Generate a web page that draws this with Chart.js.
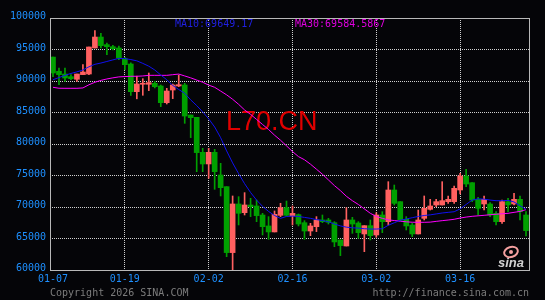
<!DOCTYPE html>
<html>
<head>
<meta charset="utf-8">
<script src="https://cdn.jsdelivr.net/npm/chart.js@4/dist/chart.umd.min.js"></script>
<style>
  html, body { margin: 0; padding: 0; background: #050508; }
  #wrap { width: 545px; height: 300px; }
</style>
</head>
<body>
<div id="wrap"><canvas id="kline" width="545" height="300"></canvas></div>
<script>
// daily bars, 01-07 .. 03-27
var days = [
  '01-07','01-08','01-09','01-10','01-11','01-12','01-13','01-14','01-15','01-16',
  '01-17','01-18','01-19','01-20','01-21','01-22','01-23','01-24','01-25','01-26',
  '01-27','01-28','01-29','01-30','01-31','02-01','02-02','02-03','02-04','02-05',
  '02-06','02-07','02-08','02-09','02-10','02-11','02-12','02-13','02-14','02-15',
  '02-16','02-17','02-18','02-19','02-20','02-21','02-22','02-23','02-24','02-25',
  '02-26','02-27','02-28','03-01','03-02','03-03','03-04','03-05','03-06','03-07',
  '03-08','03-09','03-10','03-11','03-12','03-13','03-14','03-15','03-16','03-17',
  '03-18','03-19','03-20','03-21','03-22','03-23','03-24','03-25','03-26','03-27'
];

var openPx = [
  93800, 91540, 91110, 90690, 90270, 91010, 91110, 95240, 96980, 95770,
  95450, 95240, 93550, 92700, 88310, 89480, 89480, 89630, 89210, 86560,
  88570, 89210, 89370, 84600, 84230, 78680, 76830, 78680, 75080, 73230,
  62760, 70480, 69100, 70320, 70160, 68730, 66990, 66040, 68680, 69900,
  68570, 68780, 67510, 66190, 66880, 67940, 67940, 67510, 64770, 63810,
  67940, 67460, 65720, 67040, 65560, 68730, 67670, 72700, 70850, 68040,
  67140, 65720, 68200, 69630, 70320, 70320, 70850, 70850, 72700, 74920,
  73860, 71220, 70480, 70480, 69000, 67670, 70850, 70480, 71220, 68730
];
var highPx = [
  93800, 92060, 92060, 91010, 91110, 92590, 95400, 97990, 97570, 96030,
  95660, 95560, 93760, 92900, 90770, 90370, 91270, 89950, 89370, 88840,
  89520, 90950, 89630, 84600, 84230, 79310, 79310, 79150, 76930, 73230,
  71750, 71640, 72280, 71380, 71110, 69000, 68470, 69370, 70590, 70950,
  70160, 68890, 67830, 67410, 68470, 68730, 68200, 67670, 64770, 69890,
  68360, 67670, 67040, 67940, 69100, 69260, 74020, 73490, 70850, 68470,
  67410, 69520, 71750, 71220, 71220, 74020, 71750, 73330, 75340, 75980,
  73860, 71540, 71750, 70690, 69260, 71110, 71380, 72170, 71750, 69260
];
var lowPx = [
  90700, 89420, 89950, 90210, 89950, 91010, 91000, 95240, 95240, 94180,
  94920, 93390, 91800, 87700, 87170, 87730, 88470, 88900, 85930, 86350,
  87200, 89100, 83280, 81010, 75610, 75610, 74550, 72810, 71750, 62120,
  59800, 67150, 68730, 68470, 67670, 65560, 64870, 66040, 68470, 68570,
  67140, 66990, 64870, 65450, 66090, 67510, 67300, 63700, 62280, 63810,
  65820, 65030, 62910, 64770, 65190, 65930, 67140, 70320, 67830, 66350,
  65300, 65720, 67940, 69520, 70050, 70320, 70580, 70580, 72070, 73230,
  70850, 68730, 69520, 68470, 67140, 67410, 69260, 70320, 67940, 65400
];
var closePx = [
  91270, 91010, 90480, 90370, 91110, 91430, 95400, 96980, 95610, 95450,
  95130, 93650, 92590, 88310, 89530, 89640, 89740, 89100, 86560, 88410,
  89370, 89420, 84440, 84180, 78630, 76830, 78680, 75610, 73070, 62760,
  70480, 69000, 70320, 70050, 68630, 66880, 66040, 68840, 69900, 68680,
  68990, 67300, 66190, 66990, 67940, 67670, 67570, 64450, 63870, 67940,
  67300, 65930, 67040, 65450, 68730, 67670, 72700, 70580, 67940, 66990,
  65720, 67940, 69790, 70160, 70850, 71010, 71220, 72960, 74920, 73650,
  71110, 69790, 71220, 68730, 67670, 70850, 70320, 71220, 69260, 66250
];

var ma10 = [
  90200, 90550, 90900, 91200, 91450, 91750, 92250, 92650, 92850, 93100,
  93350, 93600, 93550, 93400, 93200, 92800, 92350, 91750, 90950, 90200,
  89300, 88650, 88050, 87000, 86100, 85100, 84000, 82700, 81000, 78900,
  77000, 75300, 73700, 72300, 71100, 70100, 69300, 68650, 68200, 68500,
  68550, 68500, 68350, 68200, 68000, 67850, 67650, 67300, 67000, 66800,
  66700, 66650, 66550, 66500, 66500, 66550, 67100, 67500, 67900, 68100,
  68300, 68500, 68650, 68750, 68900, 69050, 69150, 69250, 69700, 70400,
  71100, 71300, 71250, 71100, 71000, 71000, 71050, 70800, 70200, 69649.17
];
var ma30 = [
  89000, 88850, 88840, 88840, 88840, 88900, 89400, 89800, 90100, 90320,
  90500, 90650, 90700, 90750, 90750, 90800, 90900, 90900, 90900, 90900,
  91000, 91100, 90800, 90500, 90150, 89800, 89350, 89000, 88400, 87800,
  87100, 86300, 85400, 84700, 83900, 83100, 82300, 81400, 80600, 79700,
  78800, 78000, 77500, 76800, 76000, 75200, 74300, 73400, 72600, 71700,
  71000, 70400, 69700, 69000, 68500, 68200, 67950, 67850, 67750, 67650,
  67580, 67570, 67570, 67600, 67720, 67830, 67930, 68050, 68250, 68400,
  68520, 68600, 68680, 68770, 68850, 68920, 69000, 69150, 69300, 69584.5867
];

var dateTicks = ['01-07', '01-19', '02-02', '02-16', '03-02', '03-16'];
var priceTicks = [60000, 65000, 70000, 75000, 80000, 85000, 90000, 95000, 100000];

var UP = '#ff6060';
var DOWN = '#00a000';
var MONO = 'DejaVu Sans Mono';

var candleColors = closePx.map(function (c, i) { return c >= openPx[i] ? UP : DOWN; });

var decor = {
  id: 'decor',
  beforeDraw: function (chart) {
    var c = chart.ctx;
    c.save();
    c.fillStyle = '#050508';
    c.fillRect(0, 0, chart.width, chart.height);
    c.restore();
  },
  beforeDatasetsDraw: function (chart) {
    var c = chart.ctx;
    c.save();
    c.fillStyle = '#e00000';
    c.font = '27px "Liberation Sans"';
    c.textBaseline = 'alphabetic';
    c.fillText('L70.CN', 226, 130);
    c.restore();
  },
  afterDraw: function (chart) {
    var c = chart.ctx, a = chart.chartArea;
    c.save();
    c.strokeStyle = '#b8b8b8';
    c.lineWidth = 1;
    c.strokeRect(a.left + 0.5, a.top + 0.5, a.right - a.left, a.bottom - a.top);

    c.font = '10px "' + MONO + '"';
    c.textBaseline = 'alphabetic';
    c.fillStyle = '#2020e0';
    c.fillText('MA10:' + ma10[ma10.length - 1].toFixed(2), 175, 27);
    c.fillStyle = '#e000e0';
    c.fillText('MA30:' + ma30[ma30.length - 1].toFixed(4), 295, 27);

    c.fillStyle = '#7c7c7c';
    c.fillText('Copyright 2026 SINA.COM', 50, 296);
    c.textAlign = 'right';
    c.fillText('http://finance.sina.com.cn', 529, 296);

    // sina logo
    c.textAlign = 'left';
    c.strokeStyle = '#f4a0a0';
    c.lineWidth = 2;
    c.beginPath();
    c.ellipse(511, 252, 7, 5, -0.3, 0, Math.PI * 2);
    c.stroke();
    c.fillStyle = '#f4a0a0';
    c.beginPath();
    c.arc(511, 252, 2, 0, Math.PI * 2);
    c.fill();
    c.font = 'italic bold 13px "Liberation Sans"';
    c.fillStyle = '#d0d0d0';
    c.fillText('sina', 498, 267);
    c.restore();
  }
};

new Chart(document.getElementById('kline'), {
  type: 'bar',
  data: {
    labels: days,
    datasets: [
      {
        type: 'line',
        label: 'MA10',
        data: ma10,
        borderColor: '#1010f0',
        borderWidth: 1,
        pointRadius: 0,
        tension: 0,
        order: 1
      },
      {
        type: 'line',
        label: 'MA30',
        data: ma30,
        borderColor: '#ff00ff',
        borderWidth: 1,
        pointRadius: 0,
        tension: 0,
        order: 1
      },
      {
        label: 'body',
        data: openPx.map(function (o, i) { return [o, closePx[i]]; }),
        backgroundColor: candleColors,
        barThickness: 5,
        minBarLength: 1,
        grouped: false,
        order: 2
      },
      {
        label: 'wick',
        data: lowPx.map(function (l, i) { return [l, highPx[i]]; }),
        backgroundColor: candleColors,
        barThickness: 1,
        grouped: false,
        order: 3
      }
    ]
  },
  options: {
    responsive: false,
    animation: false,
    devicePixelRatio: 1,
    layout: { padding: { top: 18, right: 16, left: 0, bottom: 0 } },
    plugins: {
      legend: { display: false },
      tooltip: { enabled: false }
    },
    scales: {
      x: {
        offset: true,
        afterFit: function (s) { s.height = 30; },
        border: { display: false, dash: [1, 1] },
        grid: {
          offset: false,
          drawTicks: false,
          color: function (ctx) {
            var lab = days[ctx.index];
            return dateTicks.indexOf(lab) > 0 ? '#d0d0d0' : 'rgba(0,0,0,0)';
          }
        },
        ticks: {
          autoSkip: false,
          maxRotation: 0,
          padding: 3,
          color: '#1e90ff',
          font: { family: MONO, size: 10 },
          callback: function (val) {
            var lab = this.getLabelForValue(val);
            return dateTicks.indexOf(lab) >= 0 ? lab : '';
          }
        }
      },
      y: {
        min: 60000,
        max: 100000,
        afterFit: function (s) { s.width = 50; },
        afterBuildTicks: function (s) {
          s.ticks = priceTicks.map(function (v) { return { value: v }; });
        },
        border: { display: false, dash: [1, 1] },
        grid: {
          drawTicks: false,
          color: function (ctx) {
            var v = ctx.tick && ctx.tick.value;
            return (v > 60000 && v < 100000) ? '#d0d0d0' : 'rgba(0,0,0,0)';
          }
        },
        ticks: {
          padding: 4,
          labelOffset: -1.5,
          color: '#1e90ff',
          font: { family: MONO, size: 10 },
          callback: function (v) { return String(v); }
        }
      }
    }
  },
  plugins: [decor]
});
</script>
</body>
</html>
